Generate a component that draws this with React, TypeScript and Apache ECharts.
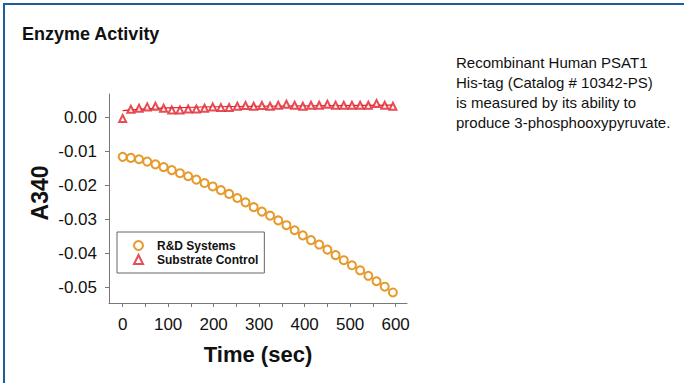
import React, { useEffect, useRef } from "react";
import * as echarts from "echarts";

const times = [0, 18, 36, 54, 72, 90, 108, 126, 144, 162, 180, 198, 216, 234, 252, 270, 288, 306, 324, 342, 360, 378, 396, 414, 432, 450, 468, 486, 504, 522, 540, 558, 576, 594];
const rndValues = [-0.0117, -0.012, -0.0124, -0.0131, -0.0139, -0.0147, -0.0156, -0.0165, -0.0174, -0.0184, -0.0194, -0.0204, -0.0215, -0.0226, -0.0238, -0.0251, -0.0265, -0.0278, -0.029, -0.0304, -0.0318, -0.0333, -0.0348, -0.0362, -0.0375, -0.039, -0.0406, -0.0421, -0.0436, -0.0451, -0.0467, -0.0483, -0.0499, -0.0516];
const controlValues = [-0.0004, 0.0023, 0.0026, 0.003, 0.0032, 0.0026, 0.0021, 0.0021, 0.0024, 0.0024, 0.0026, 0.003, 0.0028, 0.0028, 0.0032, 0.0034, 0.0032, 0.0034, 0.0032, 0.0035, 0.0038, 0.0035, 0.0032, 0.0035, 0.0035, 0.0038, 0.0035, 0.0035, 0.0035, 0.0035, 0.0035, 0.004, 0.0035, 0.0032];
const controlFitTimes = [0, 100, 300, 594];
const controlFitValues = [0.0019, 0.0027, 0.0032, 0.0035];
const xTickValues = [0, 50, 100, 150, 200, 250, 300, 350, 400, 450, 500, 550, 600];
const xLabelValues = [0, 100, 200, 300, 400, 500, 600];
const yLabelValues = [-0.05, -0.04, -0.03, -0.02, -0.01, 0];
const seriesNames = ["R&D Systems", "Substrate Control"];
const noteLines = [
  "Recombinant Human PSAT1",
  "His-tag (Catalog # 10342-PS)",
  "is measured by its ability to",
  "produce 3-phosphooxypyruvate.",
];

const ORANGE = "#E69A2C";
const RED = "#E0202A";
const FONT = "Liberation Sans, Arial, sans-serif";

export default function App() {
  const ref = useRef<HTMLDivElement>(null);
  useEffect(() => {
    if (!ref.current) return;
    const chart = echarts.init(ref.current, undefined, { renderer: "svg" });
    chart.setOption({
      animation: false,
      backgroundColor: "#fff",
      textStyle: { fontFamily: FONT },
      title: {
        text: "Enzyme Activity",
        left: 17,
        top: 20,
        textStyle: { fontSize: 18, fontWeight: "bold", color: "#111", fontFamily: FONT },
      },
      graphic: [
        { type: "rect", shape: { x: 3, y: 3, width: 681, height: 2 }, style: { fill: "#1B5E9E" }, silent: true },
        { type: "rect", shape: { x: 3, y: 3, width: 2, height: 380 }, style: { fill: "#1B5E9E" }, silent: true },
        {
          type: "text",
          left: 456,
          top: 52,
          style: {
            text: noteLines.join("\n"),
            fontSize: 15,
            lineHeight: 20,
            fill: "#111",
            fontFamily: FONT,
          },
        },
        {
          type: "text",
          x: 40,
          y: 193,
          rotation: Math.PI / 2,
          style: {
            text: "A340",
            fontSize: 23,
            fontWeight: "bold",
            fill: "#111",
            fontFamily: FONT,
            align: "center",
            verticalAlign: "middle",
          },
        },
      ],
      legend: {
        orient: "vertical",
        left: 117,
        top: 232,
        data: [
          { name: seriesNames[0], icon: "emptyCircle" },
          { name: seriesNames[1], icon: "emptyTriangle" },
        ],
        itemWidth: 9,
        itemHeight: 9,
        itemGap: 1,
        padding: [7, 6, 7, 16],
        borderColor: "#666",
        borderWidth: 1,
        borderRadius: 0,
        selectedMode: false,
        textStyle: {
          fontSize: 12,
          fontWeight: "bold",
          color: "#111",
          fontFamily: FONT,
          lineHeight: 13,
          padding: [0, 0, 0, 9],
        },
        itemStyle: { borderWidth: 1.2 },
      },
      grid: { left: 109, top: 94, right: 277, bottom: 80, containLabel: false },
      xAxis: {
        type: "value",
        min: -30,
        max: 625,
        name: "Time (sec)",
        nameLocation: "middle",
        nameGap: 40,
        nameTextStyle: { fontSize: 22, fontWeight: "bold", color: "#111", fontFamily: FONT },
        axisLine: { show: true, onZero: false, lineStyle: { color: "#777", width: 1 } },
        axisTick: { show: true, customValues: xTickValues, length: 4, lineStyle: { color: "#777" } },
        axisLabel: {
          customValues: xLabelValues,
          fontSize: 17,
          color: "#111",
          margin: 13,
          fontFamily: FONT,
        },
        splitLine: { show: false },
      },
      yAxis: {
        type: "value",
        min: -0.0547,
        max: 0.0068,
        axisLine: { show: true, onZero: false, lineStyle: { color: "#777", width: 1 } },
        axisTick: { show: true, customValues: yLabelValues, length: 4, lineStyle: { color: "#777" } },
        axisLabel: {
          customValues: yLabelValues,
          fontSize: 17,
          color: "#111",
          margin: 12,
          fontFamily: FONT,
          formatter: (v: number) => v.toFixed(2),
        },
        splitLine: { show: false },
      },
      series: [
        {
          name: seriesNames[0],
          type: "line",
          data: times.map((t, i) => [t, rndValues[i]]),
          smooth: true,
          symbol: "emptyCircle",
          symbolSize: 8,
          color: ORANGE,
          lineStyle: { color: ORANGE, width: 1.3 },
          itemStyle: { color: ORANGE, borderColor: ORANGE, borderWidth: 1.2 },
          z: 3,
        },
        {
          name: seriesNames[1],
          type: "scatter",
          data: times.map((t, i) => [t, controlValues[i]]),
          symbol: "emptyTriangle",
          symbolSize: 7,
          color: RED,
          itemStyle: { color: RED, borderColor: RED, borderWidth: 1.1 },
          z: 3,
        },
        {
          name: "Substrate Control fit",
          type: "line",
          data: controlFitTimes.map((t, i) => [t, controlFitValues[i]]),
          smooth: true,
          symbol: "none",
          color: RED,
          lineStyle: { color: RED, width: 1.2 },
          z: 2,
        },
      ],
    });
    return () => chart.dispose();
  }, []);
  return (
    <div
      ref={ref}
      style={{ position: "absolute", left: 0, top: 0, width: 684, height: 383, background: "#fff" }}
    />
  );
}
